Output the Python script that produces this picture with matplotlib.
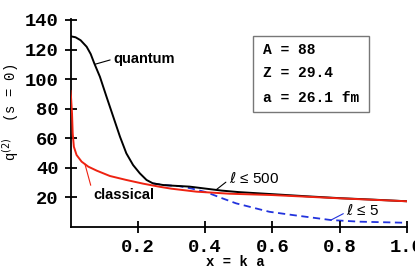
import matplotlib.pyplot as plt
from matplotlib.patches import Rectangle

# curves
quantum_x = [0.0, 0.015, 0.03, 0.048, 0.06, 0.0706, 0.0874, 0.107, 0.127, 0.147,
             0.166, 0.186, 0.206, 0.226, 0.245, 0.275, 0.3, 0.354, 0.4, 0.45,
             0.5, 0.6, 0.7, 0.8, 0.9, 1.0]
quantum_y = [129, 128.3, 126.3, 121.9, 117, 110.7, 101.6, 88.1, 74.6, 61.1,
             49.8, 41.9, 36.3, 31.8, 29.5, 28.4, 28.0, 27.3, 26.0, 24.6,
             23.6, 22.2, 20.8, 19.5, 18.5, 17.4]

classical_x = [0.0, 0.0015, 0.0045, 0.0065, 0.01, 0.018, 0.033, 0.053, 0.078, 0.117,
               0.166, 0.216, 0.265, 0.3, 0.374, 0.473, 0.6, 0.7, 0.8, 0.9, 1.0]
classical_y = [92, 88, 76.9, 63.4, 54.3, 48.7, 44.2, 40.8, 38.1, 34.5,
               31.8, 29.3, 27.2, 25.9, 23.9, 22.5, 21.6, 20.5, 19.4, 18.4, 17.4]

l5_x = [0.245, 0.275, 0.3, 0.324, 0.36, 0.404, 0.45, 0.492, 0.561, 0.591, 0.66,
        0.774, 0.858, 0.99]
l5_y = [29.5, 28.4, 28.0, 27.6, 26.0, 23.5, 19.5, 16.0, 12.0, 10.3, 8.1,
        4.7, 3.6, 2.9]

xticks = [0.2, 0.4, 0.6, 0.8, 1.0]
yticks = [20, 40, 60, 80, 100, 120, 140]
params = ["A = 88", "Z = 29.4", "a = 26.1 fm"]

mono = 'Liberation Mono'
sans = 'Liberation Sans'

fig = plt.figure(figsize=(4.15, 2.7), dpi=100)
ax = fig.add_axes([70.5/415, 1-227/270, 336.5/415, 208.5/270])

ax.plot(l5_x, l5_y, color='#2233dd', lw=1.3, ls=(0, (4, 2.5)), zorder=1)
ax.plot(quantum_x, quantum_y, color='black', lw=1.4, zorder=2)
ax.plot(classical_x, classical_y, color='#ee2211', lw=1.4, zorder=3)

ax.set_xlim(0, 1.0)
ax.set_ylim(0, 141)
ax.set_xticks(xticks)
ax.set_xticklabels(['%.1f' % v for v in xticks])
ax.set_yticks(yticks)
for s in ['top', 'right']:
    ax.spines[s].set_visible(False)
for s in ['left', 'bottom']:
    ax.spines[s].set_linewidth(1.3)
ax.tick_params(direction='inout', length=9, width=1.3, labelsize=13.5, pad=4)
for lab in ax.get_xticklabels() + ax.get_yticklabels():
    lab.set_fontfamily(mono)
    lab.set_fontweight('bold')

ax.set_xlabel('x = k a', fontfamily=mono, fontweight='bold', fontsize=10, labelpad=0)
ax.xaxis.set_label_coords((235-70.5)/336.5, (227-255)/208.5)
ax.set_ylabel('q$^{(2)}$  (s = 0)', fontfamily=mono, fontsize=10)
ax.yaxis.set_label_coords((21-70.5)/336.5, (227-112)/208.5)

# curve labels with leader lines
lead = dict(arrowstyle='-', lw=0.8, shrinkA=0, shrinkB=0)
ax.annotate('quantum', xy=(0.072, 110), xytext=(0.126, 113.5), ha='left', va='center',
            fontfamily=sans, fontweight='bold', fontsize=10.5,
            arrowprops=dict(lead, color='black', relpos=(0, 0.5)))
ax.annotate('classical', xy=(0.043, 42.5), xytext=(0.068, 21.6), ha='left', va='center',
            fontfamily=sans, fontweight='bold', fontsize=10.5,
            arrowprops=dict(lead, color='#ee2211', relpos=(0, 0.5)))
ax.annotate(r'$\ell$ ≤ 500', xy=(0.433, 25.2), xytext=(0.47, 32.8), ha='left', va='center',
            fontfamily=sans, fontsize=11,
            arrowprops=dict(lead, color='black', relpos=(0, 0.4)))
ax.annotate(r'$\ell$ ≤ 5', xy=(0.774, 4.7), xytext=(0.819, 11.0), ha='left', va='center',
            fontfamily=sans, fontsize=11,
            arrowprops=dict(lead, color='#2233dd', relpos=(0, 0.4)))

# parameter box
ax.add_patch(Rectangle((0.543, 0.553), 0.344, 0.363, transform=ax.transAxes,
                       fill=False, edgecolor='#777777', lw=1.0, clip_on=False))
for txt, yy in zip(params, [0.849, 0.737, 0.620]):
    ax.text(0.571, yy, txt, transform=ax.transAxes, ha='left', va='center',
            fontfamily=mono, fontweight='bold', fontsize=10.5)

fig.savefig('out.png', dpi=100)
